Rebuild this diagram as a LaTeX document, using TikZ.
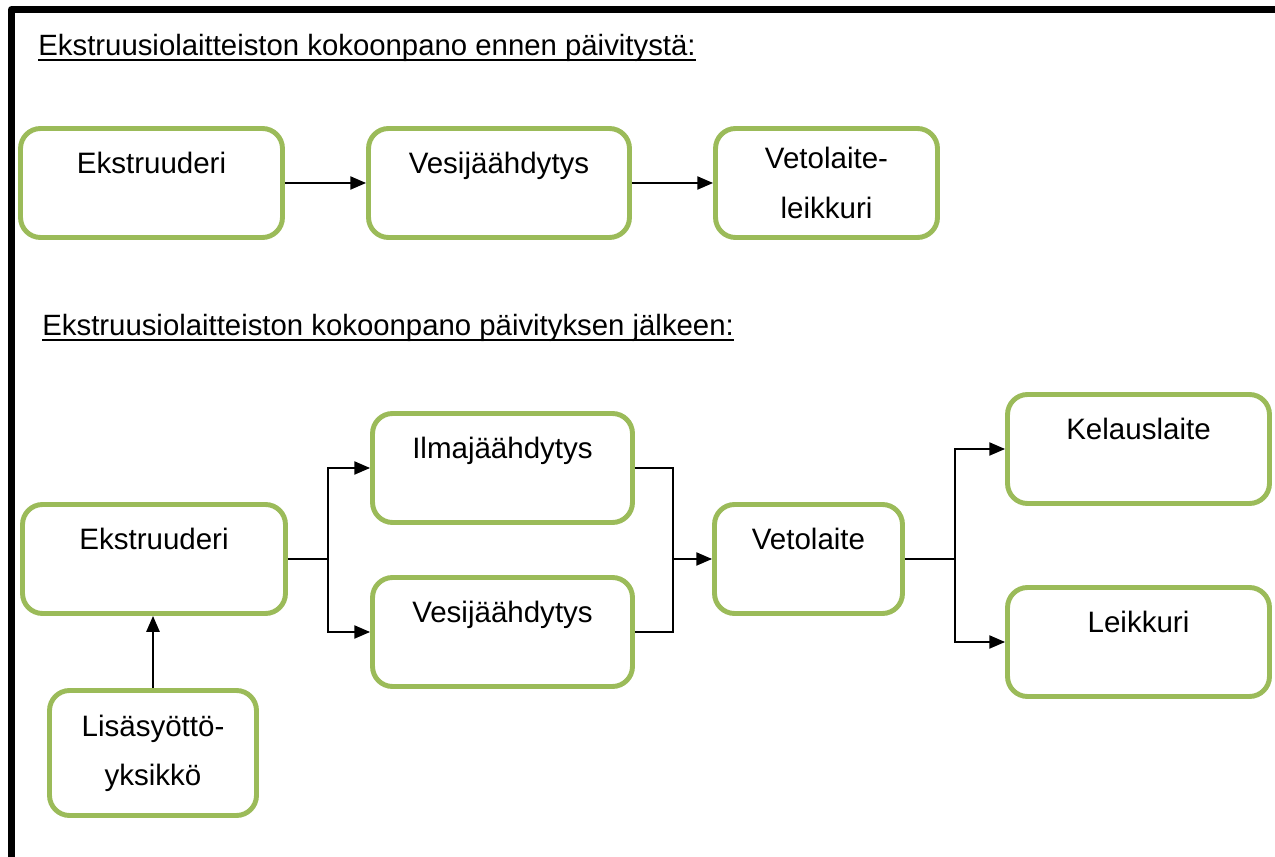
\documentclass[tikz,border=0pt]{standalone}
\usepackage{fontspec}
\setmainfont{Liberation Sans}
\usetikzlibrary{arrows.meta}
\definecolor{boxgreen}{HTML}{9BBB59}
\begin{document}
\begin{tikzpicture}[x=0.02cm,y=-0.02cm,
  box/.style={draw=boxgreen,line width=2.8pt,rounded corners=0.4cm,align=center,
    minimum height=2.18cm,font={\fontsize{16.8}{28}\selectfont}},
  oneline/.style={text height=12pt,text depth=23pt},
  conn/.style={line width=1pt,-{Triangle[length=9pt,width=7.5pt]}},
  link/.style={line width=1pt},
  heading/.style={anchor=base west,inner sep=0pt,font={\fontsize{16.7}{19}\selectfont}},
  viiva/.style={line width=1.1pt}]
\useasboundingbox (0,0) rectangle (1275,857);
\draw[line width=0.14cm,line join=round] (11.5,857) -- (11.5,9.5) -- (1275,9.5);

% ennen paivitysta
\node[heading] (otsikko1) at (38,56) {Ekstruusiolaitteiston kokoonpano ennen päivitystä:};
\draw[viiva] ([yshift=-2.5pt]otsikko1.base west) -- ([yshift=-2.5pt]otsikko1.base east);
\node[box,oneline,minimum width=5.24cm] (ekstr1) at (151.5,183) {Ekstruuderi};
\node[box,oneline,minimum width=5.22cm] (vesi1) at (499,183) {Vesijäähdytys};
\node[box,minimum width=4.44cm] (veto1) at (826.5,183) {Vetolaite-\\leikkuri};
\draw[conn] (ekstr1) -- (vesi1);
\draw[conn] (vesi1) -- (veto1);

% paivityksen jalkeen
\node[heading] (otsikko2) at (42,336) {Ekstruusiolaitteiston kokoonpano päivityksen jälkeen:};
\draw[viiva] ([yshift=-2.5pt]otsikko2.base west) -- ([yshift=-2.5pt]otsikko2.base east);
\node[box,oneline,minimum width=5.26cm] (ekstr2) at (154,559) {Ekstruuderi};
\node[box,oneline,minimum width=5.2cm] (ilma) at (502.5,468) {Ilmajäähdytys};
\node[box,oneline,minimum width=5.2cm] (vesi2) at (502.5,632) {Vesijäähdytys};
\node[box,oneline,minimum width=3.76cm] (veto2) at (808.5,559) {Vetolaite};
\node[box,oneline,minimum width=5.24cm] (kela) at (1138.5,449) {Kelauslaite};
\node[box,oneline,minimum width=5.24cm] (leik) at (1138.5,642) {Leikkuri};
\node[box,minimum width=4.14cm,minimum height=2.5cm] (lisa) at (153,753) {Lisäsyöttö-\\yksikkö};

\coordinate (haara1) at (328,559);
\coordinate (haara2) at (673,559);
\coordinate (haara3) at (955,559);
\draw[link] (ekstr2) -- (haara1);
\draw[conn] (haara1) |- (ilma);
\draw[conn] (haara1) |- (vesi2);
\draw[link] (ilma) -| (haara2);
\draw[link] (vesi2) -| (haara2);
\draw[conn] (haara2) -- (veto2);
\draw[link] (veto2) -- (haara3);
\draw[conn] (haara3) |- (kela);
\draw[conn] (haara3) |- (leik);
\draw[conn] (lisa) -- (lisa |- ekstr2.south);
\end{tikzpicture}
\end{document}
